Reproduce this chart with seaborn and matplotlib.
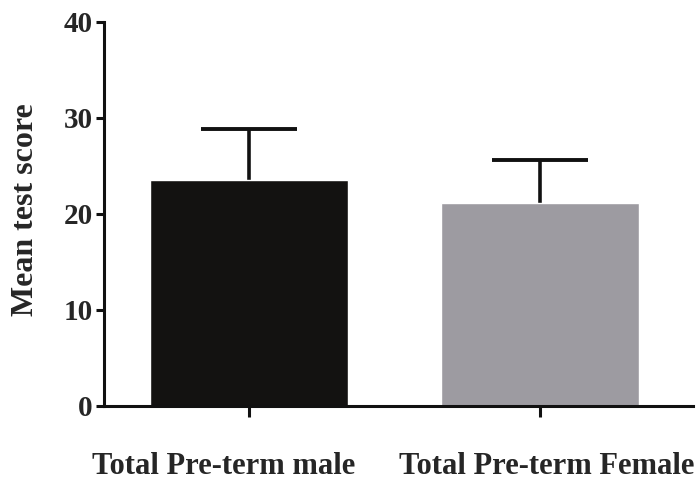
import matplotlib
matplotlib.use("Agg")
import matplotlib.pyplot as plt
import seaborn as sns
import pandas as pd

categories = ["Total Pre-term male", "Total Pre-term Female"]
means = [23.5, 21.1]
sd_upper = [5.35, 4.5]
bar_colors = ["#131211", "#9d9ba1"]
y_ticks = [0, 10, 20, 30, 40]

sns.set_theme(style="ticks")
plt.rcParams["font.family"] = ["Liberation Serif", "DejaVu Serif"]
plt.rcParams["font.weight"] = "bold"

df = pd.DataFrame({"group": categories, "score": means})

fig = plt.figure(figsize=(6.97, 4.82), dpi=100)
ax = fig.add_axes([0.149, 0.158, 0.845, 0.797])

sns.barplot(data=df, x="group", y="score", hue="group", palette=bar_colors,
            width=0.68, saturation=1, legend=False, ax=ax, zorder=2)

# upper-only error bars: stem from bar top plus a cap
xs = list(range(len(categories)))
tops = [m + e for m, e in zip(means, sd_upper)]
cap_half = 0.165
ax.vlines(xs, means, tops, colors="#111111", linewidth=2.6, zorder=1)
ax.hlines(tops, [x - cap_half for x in xs], [x + cap_half for x in xs],
          colors="#111111", linewidth=2.8, zorder=1)

ax.set_ylim(0, 40)
ax.set_xlim(-0.498, 1.525)
ax.set_yticks(y_ticks)
ax.set_yticklabels([str(t) for t in y_ticks], fontsize=21, fontweight="bold")
ax.set_xticks(xs)
ax.set_xticklabels([""] * len(xs))
ax.set_xlabel("")
ax.set_ylabel("Mean test score", fontsize=23, fontweight="bold")
ax.yaxis.set_label_coords(-0.108, 0.51)

# category names below the ticks, nudged sideways so the long names sit apart
for x, name, dx in zip(xs, categories, [-18, 4.5]):
    ax.annotate(name, xy=(x, 0), xycoords=("data", "axes fraction"),
                xytext=(dx, -33), textcoords="offset points",
                ha="center", va="top", fontsize=22, fontweight="bold",
                annotation_clip=False)

for side in ["top", "right"]:
    ax.spines[side].set_visible(False)
for side in ["left", "bottom"]:
    ax.spines[side].set_linewidth(2.2)
    ax.spines[side].set_color("#111111")

ax.tick_params(axis="y", direction="out", length=6, width=2.2, color="#111111", pad=2)
ax.tick_params(axis="x", direction="out", length=8, width=2.2, color="#111111")

fig.savefig("out.png", dpi=100, facecolor="white")
